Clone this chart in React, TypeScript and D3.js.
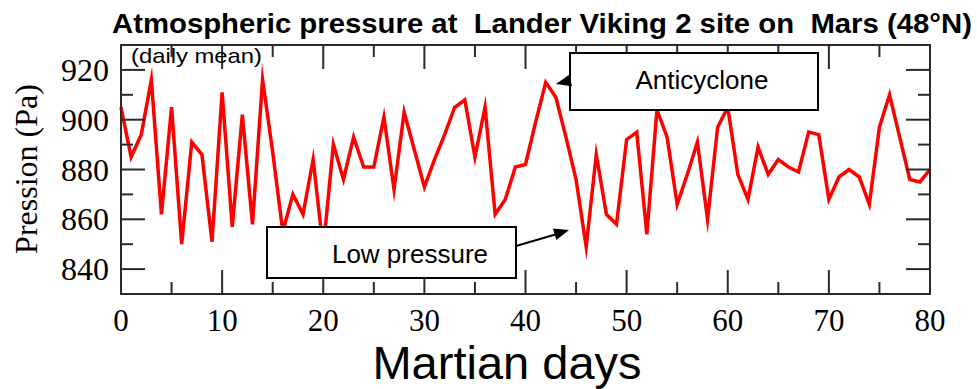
import React from "react";
import * as d3 from "d3";

// Daily mean surface pressure (Pa) at the Viking 2 lander site, sols 0–80
const days: number[] = d3.range(0, 81);
const pressure: number[] = [
  905, 885, 894, 916, 862, 905, 850, 891, 886, 851,
  911, 857, 902, 858, 916, 887, 855, 870, 862, 884,
  848, 890, 876, 893, 881, 881, 901, 872, 903, 888,
  873, 884, 894, 905, 908, 885, 905, 862, 868, 881,
  882, 899, 915, 909, 893, 876, 849, 886, 862, 858,
  892, 895, 854, 904, 893, 866, 878, 891, 860, 897,
  905, 878, 868, 889, 878, 884, 881, 879, 895, 894,
  868, 877, 880, 877, 866, 897, 910, 893, 876, 875,
  880,
];

const xMajor: number[] = [0, 10, 20, 30, 40, 50, 60, 70, 80];
const xMinor: number[] = [5, 15, 25, 35, 45, 55, 65, 75];
const yMajor: number[] = [840, 860, 880, 900, 920];
const yMinor: number[] = [850, 870, 890, 910];

const titleText = "Atmospheric pressure at  Lander Viking 2 site on  Mars (48°N)";
const subtitleText = "(daily mean)";
const yTitle = "Pression (Pa)";
const xTitle = "Martian days";
const highLabel = "Anticyclone";
const lowLabel = "Low pressure";

const W = 977;
const H = 389;
const left = 121;
const right = 930;
const top = 45;
const bottom = 294;

const serif = "'Liberation Serif', 'Times New Roman', serif";
const sans = "'Liberation Sans', Arial, sans-serif";

function arrowHead(tipX: number, tipY: number, fromX: number, fromY: number, len = 15, half = 6) {
  const dx = tipX - fromX;
  const dy = tipY - fromY;
  const n = Math.hypot(dx, dy);
  const ux = dx / n;
  const uy = dy / n;
  const bx = tipX - ux * len;
  const by = tipY - uy * len;
  const px = -uy;
  const py = ux;
  return `M${tipX},${tipY}L${bx + px * half},${by + py * half}L${bx - px * half},${by - py * half}Z`;
}

export default function App() {
  const x = d3.scaleLinear().domain([0, 80]).range([left, right]);
  const y = d3.scaleLinear().domain([830, 930]).range([bottom, top]);

  const line = d3
    .line<number>()
    .x((_, i) => x(days[i]))
    .y((d) => y(d));

  const major = 24;
  const minor = 12;
  const tickColor = "#2a2a2a";

  return (
    <svg width={W} height={H} style={{ position: "absolute", left: 0, top: 0, background: "#fff" }}>
      <rect x={0} y={0} width={W} height={H} fill="#fff" />

      {/* title */}
      <text
        x={112}
        y={33}
        fontFamily={sans}
        fontWeight="bold"
        fontSize={27}
        textLength={860}
        lengthAdjust="spacingAndGlyphs"
        fill="#000"
        style={{ whiteSpace: "pre" }}
      >
        {titleText}
      </text>

      {/* series */}
      <path d={line(pressure) ?? ""} fill="none" stroke="#ff0000" strokeWidth={3.5} strokeLinejoin="miter" strokeMiterlimit={10} />

      {/* frame */}
      <rect x={left} y={top} width={right - left} height={bottom - top} fill="none" stroke={tickColor} strokeWidth={2} />

      {/* ticks on all four sides */}
      {xMajor.map((t) => (
        <g key={`xM${t}`}>
          <line x1={x(t)} x2={x(t)} y1={bottom} y2={bottom - major} stroke={tickColor} strokeWidth={2} />
          <line x1={x(t)} x2={x(t)} y1={top} y2={top + major} stroke={tickColor} strokeWidth={2} />
        </g>
      ))}
      {xMinor.map((t) => (
        <g key={`xm${t}`}>
          <line x1={x(t)} x2={x(t)} y1={bottom} y2={bottom - minor} stroke={tickColor} strokeWidth={2} />
          <line x1={x(t)} x2={x(t)} y1={top} y2={top + minor} stroke={tickColor} strokeWidth={2} />
        </g>
      ))}
      {yMajor.map((t) => (
        <g key={`yM${t}`}>
          <line x1={left} x2={left + major} y1={y(t)} y2={y(t)} stroke={tickColor} strokeWidth={2} />
          <line x1={right} x2={right - major} y1={y(t)} y2={y(t)} stroke={tickColor} strokeWidth={2} />
        </g>
      ))}
      {yMinor.map((t) => (
        <g key={`ym${t}`}>
          <line x1={left} x2={left + minor} y1={y(t)} y2={y(t)} stroke={tickColor} strokeWidth={2} />
          <line x1={right} x2={right - minor} y1={y(t)} y2={y(t)} stroke={tickColor} strokeWidth={2} />
        </g>
      ))}

      {/* tick labels */}
      {yMajor.map((t) => (
        <text key={`yl${t}`} x={109} y={y(t) + 11} textAnchor="end" fontFamily={serif} fontSize={32} fill="#000">
          {t}
        </text>
      ))}
      {xMajor.map((t) => (
        <text key={`xl${t}`} x={x(t)} y={331} textAnchor="middle" fontFamily={serif} fontSize={31} fill="#000">
          {t}
        </text>
      ))}

      {/* axis titles */}
      <text
        transform={`translate(37,169) rotate(-90)`}
        textAnchor="middle"
        fontFamily={serif}
        fontSize={32}
        fill="#000"
      >
        {yTitle}
      </text>
      <text x={507} y={379} textAnchor="middle" fontFamily={sans} fontSize={47} fill="#000">
        {xTitle}
      </text>

      <text x={131} y={63} fontFamily={sans} fontSize={21} textLength={131} lengthAdjust="spacingAndGlyphs" fill="#000">
        {subtitleText}
      </text>

      {/* annotations */}
      <rect x={570} y={53} width={248} height={57} fill="#fff" stroke="#000" strokeWidth={2} />
      <text x={702} y={89} textAnchor="middle" fontFamily={sans} fontSize={26} fill="#000">
        {highLabel}
      </text>
      <path d={arrowHead(556, 84, 585, 77)} fill="#000" />

      <rect x={267} y={227} width={249} height={51} fill="#fff" stroke="#000" strokeWidth={2} />
      <text x={410} y={263} textAnchor="middle" fontFamily={sans} fontSize={26} fill="#000">
        {lowLabel}
      </text>
      <line x1={516} y1={246} x2={557} y2={234} stroke="#000" strokeWidth={2} />
      <path d={arrowHead(569, 230, 516, 246)} fill="#000" />
    </svg>
  );
}
